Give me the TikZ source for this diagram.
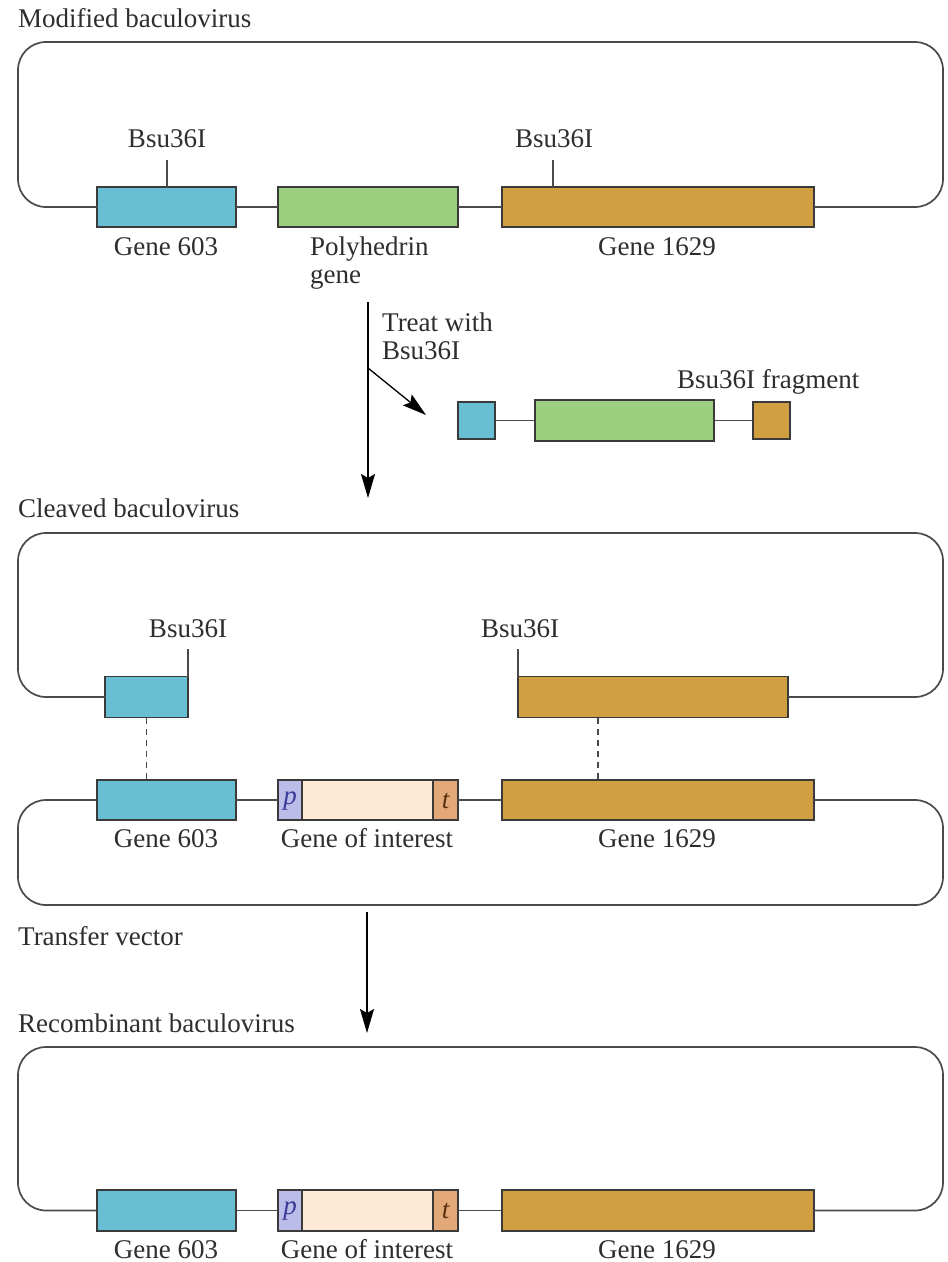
\documentclass[tikz,border=0pt]{standalone}
\usepackage{fontspec}
\setmainfont{Liberation Serif}
\usetikzlibrary{arrows.meta}
\definecolor{cblue}{HTML}{68BED3}
\definecolor{cgreen}{HTML}{9DCF80}
\definecolor{cgold}{HTML}{CF9F41}
\definecolor{clav}{HTML}{BCBCE8}
\definecolor{cpeach}{HTML}{FEE8D6}
\definecolor{ctan}{HTML}{E3A877}
\definecolor{boxline}{HTML}{3A3A3A}
\definecolor{dnaline}{HTML}{4A4A4A}
\definecolor{txt}{HTML}{2E2E2E}
\definecolor{pcol}{HTML}{3A3A9A}
\definecolor{tcol}{HTML}{5A3010}
\newcommand{\pmark}{\raisebox{-4pt}[0pt][0pt]{\textcolor{pcol}{\fontsize{27}{30}\selectfont\itshape p}}}
\newcommand{\tmark}{\raisebox{-8pt}[0pt][0pt]{\textcolor{tcol}{\fontsize{27}{30}\selectfont\itshape t}}}
\begin{document}
\begin{tikzpicture}[x=1pt,y=-1pt,
  genebox/.style={draw=boxline,line width=1.2pt,inner sep=0pt,outer sep=0pt,minimum height=40pt},
  dna/.style={draw=dnaline,line width=1.7pt},
  cutline/.style={draw=dnaline,line width=1.1pt},
  dashline/.style={draw=dnaline,line width=1.1pt,dash pattern=on 6pt off 5pt},
  arr/.style={draw=black,line width=1.3pt,-{Stealth[length=24pt,width=14pt,inset=4pt]}},
  lbl/.style={font=\fontsize{27}{30}\selectfont,text=txt,inner sep=0pt,anchor=base},
  lblw/.style={lbl,anchor=base west}
]
\useasboundingbox[fill=white] (0,0) rectangle (948,1262);

% ---------- Modified baculovirus ----------
\node[lblw] (tmod) at (18,27) {Modified baculovirus};
\node[genebox,fill=cblue,minimum width=139pt] (a603) at (166.5,207) {};
\node[genebox,fill=cgreen,minimum width=180pt] (apoly) at (368,207) {};
\node[genebox,fill=cgold,minimum width=312pt] (a1629) at (658,207) {};
\draw[dna,rounded corners=28pt] (a603.west) -- (18,207) -- (18,42) -- (943,42) -- (943,207) -- (a1629.east);
\draw[dna] (a603.east) -- (apoly.west);
\draw[dna] (apoly.east) -- (a1629.west);
\coordinate (s1) at (167,160);
\coordinate (s2) at (553,160);
\draw[cutline] (s1) -- (s1 |- a603.north);
\draw[cutline] (s2) -- (s2 |- a1629.north);
\node[lbl] (bs1) at (167,147) {Bsu36I};
\node[lbl] (bs2) at (554,147) {Bsu36I};
\node[lbl] (l603a) at (166,255) {Gene 603};
\node[lblw] (lpoly) at (310,255) {Polyhedrin};
\node[lblw] (lpoly2) at (310,283) {gene};
\node[lbl] (l1629a) at (657,255) {Gene 1629};

% ---------- Treatment arrow & fragment ----------
\coordinate (t1) at (368,302);
\coordinate (t2) at (368,498);
\draw[arr] (t1) -- (t2);
\coordinate (d1) at (368,368);
\coordinate (d2) at (426,415);
\draw[arr] (d1) -- (d2);
\node[lblw] (ttreat) at (382,331) {Treat with};
\node[lblw] (tbsu) at (382,359) {Bsu36I};
\node[genebox,fill=cblue,minimum width=37pt,minimum height=37pt] (f1) at (476.5,420.5) {};
\node[genebox,fill=cgreen,minimum width=179pt,minimum height=41pt] (f2) at (624.5,420.5) {};
\node[genebox,fill=cgold,minimum width=37pt,minimum height=37pt] (f3) at (771.5,420.5) {};
\draw[dna] (f1.east) -- (f2.west);
\draw[dna] (f2.east) -- (f3.west);
\node[lblw] (tfrag) at (677,388) {Bsu36I fragment};

% ---------- Cleaved baculovirus ----------
\node[lblw] (tcl) at (18,517) {Cleaved baculovirus};
\node[genebox,fill=cblue,minimum width=83pt,minimum height=41pt] (c603) at (146.5,697) {};
\node[genebox,fill=cgold,minimum width=270pt,minimum height=41pt] (c1629) at (653,697) {};
\draw[dna,rounded corners=28pt] (c603.west) -- (18,697) -- (18,533) -- (943,533) -- (943,697) -- (c1629.east);
\coordinate (s3) at (188,649);
\coordinate (s4) at (518,649);
\draw[cutline] (s3) -- (c603.north east);
\draw[cutline] (s4) -- (c1629.north west);
\node[lbl] (bs3) at (188,637) {Bsu36I};
\node[lbl] (bs4) at (520,637) {Bsu36I};

% transfer vector
\node[genebox,fill=cblue,minimum width=139pt] (d603) at (166.5,800) {};
\node[genebox,fill=clav,minimum width=24pt] (dp) at (290,800) {\pmark};
\node[genebox,fill=cpeach,minimum width=131pt] (dgoi) at (367.5,800) {};
\node[genebox,fill=ctan,minimum width=25pt] (dt) at (445.5,800) {\tmark};
\node[genebox,fill=cgold,minimum width=312pt] (d1629) at (658,800) {};
\draw[dna,rounded corners=28pt] (d603.west) -- (18,800) -- (18,905) -- (943,905) -- (943,800) -- (d1629.east);
\draw[dna] (d603.east) -- (dp.west);
\draw[dna] (dt.east) -- (d1629.west);
\draw[dashline] (c603.south) -- (c603.south |- d603.north);
\coordinate (h2) at ([xshift=80pt]c1629.south west);
\draw[dashline] (h2) -- (h2 |- d1629.north);
\node[lbl] (l603b) at (166,847) {Gene 603};
\node[lbl] (lgoib) at (367,847) {Gene of interest};
\node[lbl] (l1629b) at (657,847) {Gene 1629};
\node[lblw] (ttv) at (18,945) {Transfer vector};

% ---------- Recombinant ----------
\coordinate (r1) at (367,912);
\coordinate (r2) at (367,1033);
\draw[arr] (r1) -- (r2);
\node[lblw] (trec) at (18,1032) {Recombinant baculovirus};
\node[genebox,fill=cblue,minimum width=139pt,minimum height=41pt] (e603) at (166.5,1210.5) {};
\node[genebox,fill=clav,minimum width=24pt,minimum height=41pt] (ep) at (290,1210.5) {\pmark};
\node[genebox,fill=cpeach,minimum width=131pt,minimum height=41pt] (egoi) at (367.5,1210.5) {};
\node[genebox,fill=ctan,minimum width=25pt,minimum height=41pt] (et) at (445.5,1210.5) {\tmark};
\node[genebox,fill=cgold,minimum width=312pt,minimum height=41pt] (e1629) at (658,1210.5) {};
\draw[dna,rounded corners=28pt] (e603.west) -- (18,1210.5) -- (18,1047) -- (943,1047) -- (943,1210.5) -- (e1629.east);
\draw[dna] (e603.east) -- (ep.west);
\draw[dna] (et.east) -- (e1629.west);
\node[lbl] (l603c) at (166,1258) {Gene 603};
\node[lbl] (lgoic) at (367,1258) {Gene of interest};
\node[lbl] (l1629c) at (657,1258) {Gene 1629};
\end{tikzpicture}
\end{document}
